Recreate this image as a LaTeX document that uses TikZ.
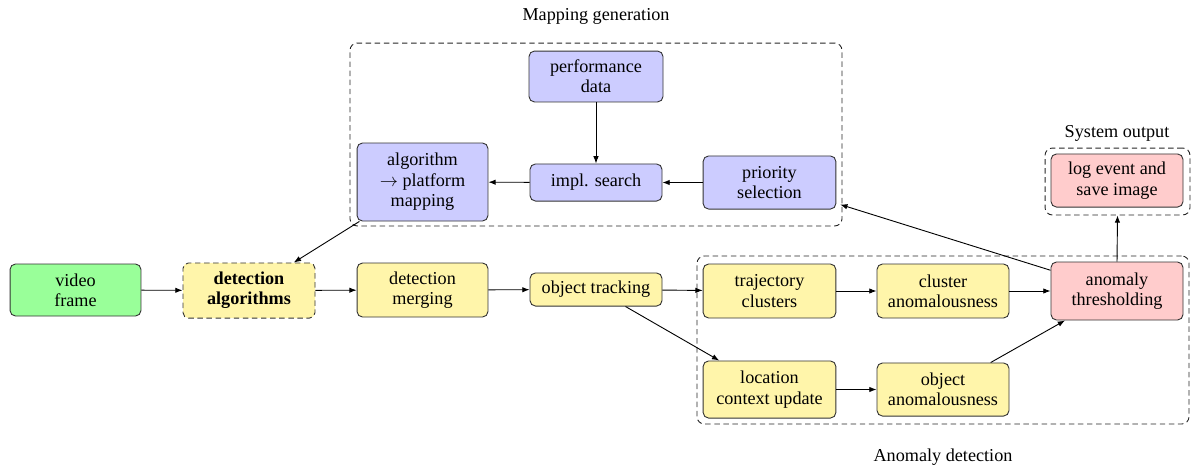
\documentclass[tikz,border=0pt]{standalone}
\usepackage{fontspec}
\setmainfont{Liberation Serif}
\usetikzlibrary{arrows.meta}
\definecolor{gfill}{RGB}{153,255,153}
\definecolor{yfill}{RGB}{255,245,170}
\definecolor{bfill}{RGB}{204,204,255}
\definecolor{rfill}{RGB}{255,204,204}
\tikzset{
  box/.style={draw=black!80, line width=0.5pt, rounded corners=3pt, align=center, inner sep=1pt,
    font=\fontsize{10}{11.2}\selectfont, minimum width=72.6pt, minimum height=29pt},
  group/.style={draw=black!85, line width=0.5pt, dash pattern=on 3pt off 2pt, rounded corners=4pt, inner sep=0pt},
  lbl/.style={font=\fontsize{10}{11.2}\selectfont, inner sep=0pt},
  arr/.style={-{Latex[length=4pt,width=3pt]}, draw=black, line width=0.5pt}
}
\begin{document}
\begin{tikzpicture}[x=0.55pt,y=-0.55pt]
\useasboundingbox (0,0) rectangle (1192,468);
% groups
\node[group, minimum width=270.6pt, minimum height=100.6pt] (mapbox) at (596,134.5) {};
\node[group, minimum width=270.6pt, minimum height=92.4pt] (anobox) at (943,340) {};
\node[group, minimum width=79.7pt, minimum height=36.8pt] (outbox) at (1117.5,181.5) {};
\node[lbl] (maplbl) at (596,16) {Mapping generation};
\node[lbl] (outlbl) at (1117,133) {System output};
\node[lbl] (anolbl) at (943,457) {Anomaly detection};
% nodes
\node[box, fill=gfill, minimum width=72pt, minimum height=28.6pt] (video) at (75.5,290) {video\\frame};
\node[box, fill=yfill, dash pattern=on 3pt off 2pt, minimum height=30.3pt] (detalg) at (249,290.5) {\textbf{detection}\\\textbf{algorithms}};
\node[box, fill=yfill, minimum width=72pt, minimum height=29.7pt] (merge) at (422.5,290) {detection\\merging};
\node[box, fill=yfill, minimum height=18.2pt] (track) at (596,289.5) {object tracking};
\node[box, fill=yfill, minimum width=73pt, minimum height=29.7pt] (traj) at (769.5,291) {trajectory\\clusters};
\node[box, fill=yfill, minimum height=29.7pt] (clus) at (943,291) {cluster\\anomalousness};
\node[box, fill=rfill, minimum height=31.9pt] (thresh) at (1117,291) {anomaly\\thresholding};
\node[box, fill=yfill, minimum width=73pt, minimum height=31.4pt] (loc) at (769.5,389.5) {location\\context update};
\node[box, fill=yfill, minimum height=29.2pt] (objan) at (943,389.5) {object\\anomalousness};
\node[box, fill=rfill, minimum height=29.2pt] (log) at (1117,180.5) {log event and\\save image};
\node[box, fill=bfill, minimum width=73.7pt, minimum height=28pt] (perf) at (596,76.5) {performance\\data};
\node[box, fill=bfill, minimum height=20.4pt] (impl) at (596,182.5) {impl. search};
\node[box, fill=bfill, minimum width=73pt, minimum height=29.2pt] (prio) at (769.5,182.5) {priority\\selection};
\node[box, fill=bfill, minimum width=72pt, minimum height=42.9pt] (amap) at (422.5,182) {algorithm\\$\rightarrow$ platform\\mapping};
% connectors
\draw[arr] (video) -- (detalg);
\draw[arr] (detalg) -- (merge);
\draw[arr] (merge) -- (track);
\draw[arr] (track) -- (traj);
\draw[arr] (track) -- (loc);
\draw[arr] (traj) -- (clus);
\draw[arr] (clus) -- (thresh);
\draw[arr] (loc) -- (objan);
\draw[arr] (objan) -- (thresh);
\draw[arr] (thresh.north) -- (outbox.south);
\draw[arr, shorten >=2.2pt] (thresh) -- (prio);
\draw[arr] (perf) -- (impl);
\draw[arr] (prio) -- (impl);
\draw[arr] (impl) -- (amap);
\draw[arr] (amap) -- (detalg);
\end{tikzpicture}
\end{document}
